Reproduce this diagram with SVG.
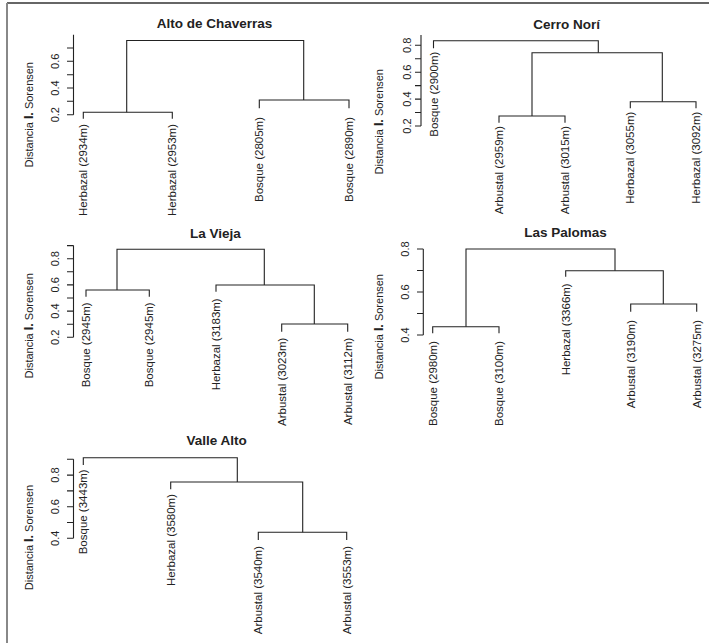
<svg xmlns="http://www.w3.org/2000/svg" width="709" height="643" viewBox="0 0 709 643">
<style>
text{font-family:"Liberation Sans",Arial,sans-serif;fill:#222}
.t{font-size:13.5px;font-weight:bold;text-anchor:middle}
.lab{font-size:11.5px;text-anchor:end}
.tk{font-size:11px;text-anchor:middle}
.yl{font-size:11px;text-anchor:middle}
.b{font-weight:bold;font-size:12.5px}
.ln{fill:none;stroke:#222;stroke-width:1.1}
.ax{fill:none;stroke:#222;stroke-width:1.1}
</style>
<rect width="709" height="643" fill="#fff"/>
<g id="frame">
<line x1="7" y1="3" x2="709" y2="3" stroke="#333" stroke-width="1.6"/>
<line x1="7" y1="3" x2="7" y2="643" stroke="#888" stroke-width="2"/>
</g>

<g id="panel-alto">
<text class="t" x="214.5" y="28">Alto de Chaverras</text>
<path class="ax" d="M73.5,34.7V114.7M67,114.7H73.5M67,101.3H73.5M67,88H73.5M67,74.7H73.5M67,61.3H73.5M67,48H73.5"/>
<text class="tk" transform="translate(55,114.7) rotate(-90)" dy="0.35em">0.2</text>
<text class="tk" transform="translate(55,88) rotate(-90)" dy="0.35em">0.4</text>
<text class="tk" transform="translate(55,61.3) rotate(-90)" dy="0.35em">0.6</text>
<text class="yl" transform="translate(29,114.7) rotate(-90)" dy="0.35em">Distancia <tspan class="b">I.</tspan> Sorensen</text>
<g id="alto-h2934"><text class="lab" transform="translate(83.3,124) rotate(-90)" dy="0.35em">Herbazal (2934m)</text></g>
<g id="alto-h2953"><text class="lab" transform="translate(172.3,124) rotate(-90)" dy="0.35em">Herbazal (2953m)</text></g>
<g id="alto-b2805"><text class="lab" transform="translate(259.3,117) rotate(-90)" dy="0.35em">Bosque (2805m)</text></g>
<g id="alto-b2890"><text class="lab" transform="translate(349,117) rotate(-90)" dy="0.35em">Bosque (2890m)</text></g>
</g>

<g id="panel-cerro">
<text class="t" x="566.7" y="29">Cerro Norí</text>
<path class="ax" d="M421,35V126M415,126H421M415,112.5H421M415,99.1H421M415,85.6H421M415,72.2H421M415,58.7H421M415,45.3H421"/>
<text class="tk" transform="translate(407,126) rotate(-90)" dy="0.35em">0.2</text>
<text class="tk" transform="translate(407,99.1) rotate(-90)" dy="0.35em">0.4</text>
<text class="tk" transform="translate(407,72.2) rotate(-90)" dy="0.35em">0.6</text>
<text class="tk" transform="translate(407,45.3) rotate(-90)" dy="0.35em">0.8</text>
<text class="yl" transform="translate(379,121.7) rotate(-90)" dy="0.35em">Distancia <tspan class="b">I.</tspan> Sorensen</text>
<g id="cerro-b2900"><text class="lab" transform="translate(433.5,51.7) rotate(-90)" dy="0.35em">Bosque (2900m)</text></g>
<g id="cerro-a2959"><text class="lab" transform="translate(499,126) rotate(-90)" dy="0.35em">Arbustal (2959m)</text></g>
<g id="cerro-a3015"><text class="lab" transform="translate(565,126) rotate(-90)" dy="0.35em">Arbustal (3015m)</text></g>
<g id="cerro-h3055"><text class="lab" transform="translate(630.3,111.7) rotate(-90)" dy="0.35em">Herbazal (3055m)</text></g>
<g id="cerro-h3092"><text class="lab" transform="translate(696,111.7) rotate(-90)" dy="0.35em">Herbazal (3092m)</text></g>
</g>

<g id="panel-vieja">
<text class="t" x="215.3" y="237.7">La Vieja</text>
<path class="ax" d="M73.5,245.6V337.3M67,337.3H73.5M67,324.2H73.5M67,311.1H73.5M67,298H73.5M67,284.9H73.5M67,271.8H73.5M67,258.7H73.5M67,245.6H73.5"/>
<text class="tk" transform="translate(55,337.3) rotate(-90)" dy="0.35em">0.2</text>
<text class="tk" transform="translate(55,311.1) rotate(-90)" dy="0.35em">0.4</text>
<text class="tk" transform="translate(55,284.9) rotate(-90)" dy="0.35em">0.6</text>
<text class="tk" transform="translate(55,258.7) rotate(-90)" dy="0.35em">0.8</text>
<text class="yl" transform="translate(29,325.8) rotate(-90)" dy="0.35em">Distancia <tspan class="b">I.</tspan> Sorensen</text>
<g id="vieja-b2945a"><text class="lab" transform="translate(86,302.3) rotate(-90)" dy="0.35em">Bosque (2945m)</text></g>
<g id="vieja-b2945b"><text class="lab" transform="translate(149.3,302.3) rotate(-90)" dy="0.35em">Bosque (2945m)</text></g>
<g id="vieja-h3183"><text class="lab" transform="translate(216,298.3) rotate(-90)" dy="0.35em">Herbazal (3183m)</text></g>
<g id="vieja-a3023"><text class="lab" transform="translate(281.7,337.7) rotate(-90)" dy="0.35em">Arbustal (3023m)</text></g>
<g id="vieja-a3112"><text class="lab" transform="translate(347.7,337.7) rotate(-90)" dy="0.35em">Arbustal (3112m)</text></g>
</g>

<g id="panel-palomas">
<text class="t" x="565.5" y="236.5">Las Palomas</text>
<path class="ax" d="M423.3,249V335M417,335H423.3M417,313.5H423.3M417,292H423.3M417,270.5H423.3M417,249H423.3"/>
<text class="tk" transform="translate(405,335) rotate(-90)" dy="0.35em">0.4</text>
<text class="tk" transform="translate(405,292) rotate(-90)" dy="0.35em">0.6</text>
<text class="tk" transform="translate(405,249) rotate(-90)" dy="0.35em">0.8</text>
<text class="yl" transform="translate(379,326.7) rotate(-90)" dy="0.35em">Distancia <tspan class="b">I.</tspan> Sorensen</text>
<g id="palomas-b2980"><text class="lab" transform="translate(432.7,341) rotate(-90)" dy="0.35em">Bosque (2980m)</text></g>
<g id="palomas-b3100"><text class="lab" transform="translate(499,341) rotate(-90)" dy="0.35em">Bosque (3100m)</text></g>
<g id="palomas-h3366"><text class="lab" transform="translate(565.7,283.3) rotate(-90)" dy="0.35em">Herbazal (3366m)</text></g>
<g id="palomas-a3190"><text class="lab" transform="translate(630.7,320) rotate(-90)" dy="0.35em">Arbustal (3190m)</text></g>
<g id="palomas-a3275"><text class="lab" transform="translate(696.7,320) rotate(-90)" dy="0.35em">Arbustal (3275m)</text></g>
</g>

<g id="panel-valle">
<text class="t" x="216.7" y="444.5">Valle Alto</text>
<path class="ax" d="M73.5,459.3V538.3M67,538.3H73.5M67,522.5H73.5M67,506.7H73.5M67,490.9H73.5M67,475.1H73.5M67,459.3H73.5"/>
<text class="tk" transform="translate(55,538.3) rotate(-90)" dy="0.35em">0.4</text>
<text class="tk" transform="translate(55,506.7) rotate(-90)" dy="0.35em">0.6</text>
<text class="tk" transform="translate(55,475.1) rotate(-90)" dy="0.35em">0.8</text>
<text class="yl" transform="translate(29,537.5) rotate(-90)" dy="0.35em">Distancia <tspan class="b">I.</tspan> Sorensen</text>
<g id="valle-b3443"><text class="lab" transform="translate(83.3,469.3) rotate(-90)" dy="0.35em">Bosque (3443m)</text></g>
<g id="valle-h3580"><text class="lab" transform="translate(170.7,494) rotate(-90)" dy="0.35em">Herbazal (3580m)</text></g>
<g id="valle-a3540"><text class="lab" transform="translate(258.3,546) rotate(-90)" dy="0.35em">Arbustal (3540m)</text></g>
<g id="valle-a3553"><text class="lab" transform="translate(346.7,546) rotate(-90)" dy="0.35em">Arbustal (3553m)</text></g>
</g>

<g id="connectors">
<g id="conn-alto">
<path class="ln" d="M126.7,112.3V40.5H303.7V100"/>
<path class="ln" d="M83.3,118.7V112.3H172.3V118.7"/>
<path class="ln" d="M259.3,108.3V100H349V108.3"/>
</g>
<g id="conn-cerro">
<path class="ln" d="M433.5,48.3V40.7H598.3V52.7"/>
<path class="ln" d="M532,116V52.7H662.3V101.7"/>
<path class="ln" d="M499,122.7V116H565V122.7"/>
<path class="ln" d="M630.3,108.3V101.7H696V108.3"/>
</g>
<g id="conn-vieja">
<path class="ln" d="M117,290V249.3H264.3V285"/>
<path class="ln" d="M86,296.7V290H149.3V296.7"/>
<path class="ln" d="M216,291.7V285H314.3V324"/>
<path class="ln" d="M281.7,331.7V324H347.7V331.7"/>
</g>
<g id="conn-palomas">
<path class="ln" d="M466,326.7V249H615V270.7"/>
<path class="ln" d="M432.7,333.3V326.7H499V333.3"/>
<path class="ln" d="M565.7,276.7V270.7H663.3V304"/>
<path class="ln" d="M630.7,311.7V304H696.7V311.7"/>
</g>
<g id="conn-valle">
<path class="ln" d="M83.3,465V457.7H237.3V482"/>
<path class="ln" d="M170.7,489.3V482H302.7V532.3"/>
<path class="ln" d="M258.3,540V532.3H346.7V540"/>
</g>
</g>
</svg>
